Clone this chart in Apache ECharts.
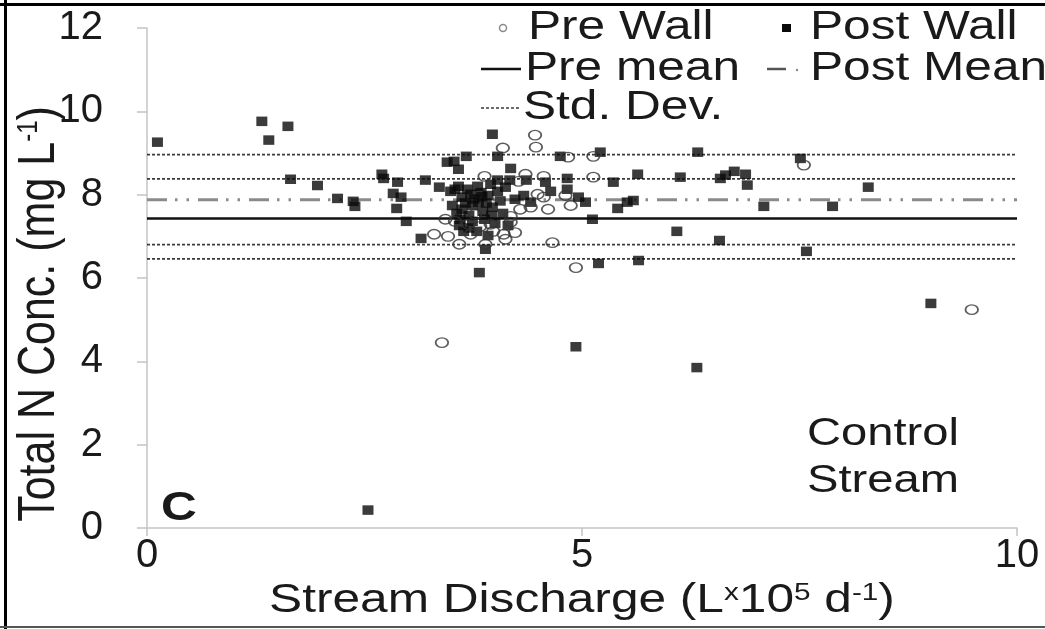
<!DOCTYPE html>
<html>
<head>
<meta charset="utf-8">
<script src="https://cdn.jsdelivr.net/npm/echarts@6/dist/echarts.min.js"></script>
<style>
  html, body { margin: 0; padding: 0; background: #ffffff; }
  #chart { width: 1045px; height: 629px; }
</style>
</head>
<body>
<div id="chart"></div>
<script>
// Stream discharge (L x 10^5 per day) vs total N concentration (mg/L)
const preWall = [
  [3.30, 7.05], [3.39, 4.45], [3.43, 7.41], [3.46, 7.00], [3.54, 7.36], [3.59, 6.81],
  [3.69, 7.29], [3.72, 7.05], [3.77, 7.53], [3.83, 7.24], [3.88, 8.44], [3.89, 6.81],
  [3.95, 7.29], [3.98, 7.12], [4.09, 9.12], [4.10, 7.05], [4.12, 6.93], [4.18, 7.48],
  [4.18, 7.34], [4.23, 7.09], [4.27, 8.32], [4.29, 7.65], [4.35, 8.49], [4.41, 7.70],
  [4.46, 9.43], [4.47, 9.14], [4.49, 8.01], [4.56, 8.44], [4.56, 7.94], [4.61, 7.65],
  [4.66, 6.85], [4.81, 7.98], [4.84, 8.90], [4.87, 7.74], [4.93, 6.25], [5.13, 8.92],
  [5.13, 8.42], [7.55, 8.71], [9.48, 5.24]
];

const postWall = [
  [0.12, 9.26], [1.32, 9.76], [1.40, 9.31], [1.62, 9.64], [1.65, 8.37], [1.96, 8.22],
  [2.19, 7.91], [2.37, 7.84], [2.39, 7.72], [2.54, 0.43], [2.70, 8.49], [2.72, 8.39],
  [2.83, 8.03], [2.87, 7.67], [2.88, 8.30], [2.92, 7.94], [2.98, 7.36], [3.15, 6.95],
  [3.20, 8.35], [3.36, 8.18], [3.45, 8.78], [3.49, 8.08], [3.51, 7.74], [3.53, 8.80],
  [3.54, 8.13], [3.56, 7.55], [3.58, 8.61], [3.58, 8.20], [3.59, 7.26], [3.60, 7.41],
  [3.62, 7.94], [3.62, 7.65], [3.64, 7.12], [3.66, 7.80], [3.67, 8.92], [3.68, 8.13],
  [3.70, 7.50], [3.70, 7.20], [3.72, 8.01], [3.74, 7.74], [3.74, 7.36], [3.76, 7.90],
  [3.79, 7.12], [3.80, 8.20], [3.81, 7.82], [3.82, 6.13], [3.84, 8.05], [3.85, 7.95],
  [3.86, 7.60], [3.88, 7.41], [3.89, 6.69], [3.90, 7.80], [3.92, 7.98], [3.92, 7.02],
  [3.95, 8.25], [3.96, 7.50], [3.97, 9.45], [3.97, 7.70], [4.00, 7.31], [4.03, 8.92],
  [4.03, 8.35], [4.03, 8.08], [4.06, 7.85], [4.09, 7.55], [4.12, 8.18], [4.15, 7.26],
  [4.17, 8.35], [4.18, 8.63], [4.23, 7.89], [4.33, 7.98], [4.36, 8.35], [4.41, 7.82],
  [4.58, 8.30], [4.64, 8.08], [4.75, 8.92], [4.83, 8.39], [4.83, 8.13], [4.93, 4.35],
  [4.96, 7.94], [5.04, 7.82], [5.12, 7.41], [5.19, 6.35], [5.21, 9.02], [5.36, 8.30],
  [5.41, 7.67], [5.52, 7.82], [5.59, 7.86], [5.64, 8.49], [5.65, 6.42], [6.09, 7.12],
  [6.13, 8.42], [6.32, 3.85], [6.33, 9.02], [6.58, 6.90], [6.59, 8.39], [6.65, 8.47],
  [6.75, 8.56], [6.88, 8.49], [6.90, 8.23], [7.09, 7.72], [7.51, 8.87], [7.58, 6.64],
  [7.88, 7.72], [8.29, 8.18], [9.01, 5.39]
];

const preMean = 7.43;
const postMean = 7.88;
const stdDevLevels = [8.96, 8.38, 6.80, 6.46];

const xRange = [0, 10];
const yRange = [0, 12];
const xStep = 5;
const yStep = 2;

const FONT = '"Liberation Sans", Arial, Helvetica, sans-serif';
const INK = '#1a1a1a';
const AXIS_GREY = '#c4c4c4';
const WIDE = 1.24; // horizontal stretch applied to the annotation text

// ellipse outline used for the open markers
const OPEN_MARK = 'path://M0,4a5,4 0 1,0 10,0a5,4 0 1,0 -10,0z';

function hline(level) {
  return [[xRange[0], level], [xRange[1], level]];
}

function levelSeries(name, level, lineStyle) {
  return {
    name: name,
    type: 'line',
    data: hline(level),
    showSymbol: false,
    symbol: 'none',
    silent: true,
    animation: false,
    lineStyle: lineStyle,
    z: 1
  };
}

const series = [];
stdDevLevels.forEach(function (lv, i) {
  series.push(levelSeries('Std. Dev. ' + (i + 1), lv, { color: '#3a3a3a', width: 1.6, type: [3, 2] }));
});
series.push(levelSeries('Pre mean', preMean, { color: '#111111', width: 2.5, type: 'solid' }));
series.push(levelSeries('Post Mean', postMean, { color: '#8a8a8a', width: 3, type: [20, 8, 2.5, 9, 2.5, 9] }));

series.push({
  name: 'Post Wall',
  type: 'scatter',
  data: postWall,
  symbol: 'rect',
  symbolSize: [11, 9.5],
  itemStyle: { color: '#0a0a0a' },
  animation: false,
  z: 3
});
series.push({
  name: 'Pre Wall',
  type: 'scatter',
  data: preWall,
  symbol: OPEN_MARK,
  symbolSize: [12.5, 9.5],
  itemStyle: { color: 'transparent', borderColor: '#333333', borderWidth: 1.6 },
  animation: false,
  z: 4
});

function label(x, y, text, opts) {
  opts = opts || {};
  return {
    type: 'text',
    x: x,
    y: y,
    scaleX: opts.scaleX || WIDE,
    scaleY: opts.scaleY || 1,
    rotation: opts.rotation || 0,
    z: 10,
    style: {
      text: text,
      fill: INK,
      fontSize: opts.size || 40,
      fontFamily: FONT,
      fontWeight: opts.weight || 'normal',
      align: opts.align || 'left',
      verticalAlign: 'middle',
      rich: opts.rich
    }
  };
}

const supRich = {
  s: { fontSize: 24, fontFamily: FONT, fill: INK, verticalAlign: 'top', lineHeight: 24 }
};

const chart = echarts.init(document.getElementById('chart'), null, { renderer: 'canvas' });
chart.setOption({
  backgroundColor: '#ffffff',
  animation: false,
  grid: { left: 147, right: 28, top: 28, bottom: 101, containLabel: false },
  xAxis: {
    type: 'value',
    min: xRange[0],
    max: xRange[1],
    interval: xStep,
    axisLine: { show: true, lineStyle: { color: AXIS_GREY, width: 1.5 } },
    axisTick: { show: true, length: 8, lineStyle: { color: AXIS_GREY, width: 1.5 } },
    axisLabel: { fontSize: 40, fontFamily: FONT, color: INK, margin: 8 },
    splitLine: { show: false }
  },
  yAxis: {
    type: 'value',
    min: yRange[0],
    max: yRange[1],
    interval: yStep,
    axisLine: { show: true, lineStyle: { color: AXIS_GREY, width: 1.5 } },
    axisTick: { show: true, length: 10, lineStyle: { color: AXIS_GREY, width: 1.5 } },
    axisLabel: { fontSize: 40, fontFamily: FONT, color: INK, margin: 44 },
    splitLine: { show: false }
  },
  series: series,
  graphic: [
    // frame
    { type: 'line', z: 20, shape: { x1: 0, y1: 4.5, x2: 1045, y2: 4.5 }, style: { stroke: '#000', lineWidth: 3 } },
    { type: 'line', z: 20, shape: { x1: 5.5, y1: 0, x2: 5.5, y2: 629 }, style: { stroke: '#000', lineWidth: 3 } },
    { type: 'line', z: 20, shape: { x1: 0, y1: 627, x2: 1045, y2: 627 }, style: { stroke: '#555', lineWidth: 2 } },

    // legend, first column
    { type: 'circle', z: 10, shape: { cx: 503, cy: 28, r: 3.5 }, style: { fill: 'none', stroke: '#8a8a8a', lineWidth: 1.5 } },
    label(528, 28, 'Pre Wall'),
    { type: 'line', z: 10, shape: { x1: 481, y1: 69, x2: 521, y2: 69 }, style: { stroke: '#111', lineWidth: 2.5 } },
    label(525, 69, 'Pre mean'),
    { type: 'line', z: 10, shape: { x1: 481, y1: 108, x2: 521, y2: 108 }, style: { stroke: '#3a3a3a', lineWidth: 1.6, lineDash: [3, 2] } },
    label(523, 108, 'Std. Dev.'),

    // legend, second column
    { type: 'rect', z: 10, shape: { x: 782, y: 24, width: 9, height: 8 }, style: { fill: '#0a0a0a' } },
    label(810, 28, 'Post Wall'),
    { type: 'line', z: 10, shape: { x1: 767, y1: 69, x2: 786, y2: 69 }, style: { stroke: '#555', lineWidth: 2.5 } },
    { type: 'circle', z: 10, shape: { cx: 797, cy: 70, r: 1.2 }, style: { fill: '#888' } },
    label(810, 69, 'Post Mean'),

    // panel annotations
    label(179, 509, 'C', { weight: 'bold', align: 'center', size: 40 }),
    label(883, 435, 'Control', { align: 'center', size: 38 }),
    label(883, 482, 'Stream', { align: 'center', size: 38 }),

    // axis titles
    label(582, 601, 'Stream Discharge (L{s|x}10{s|5} d{s|-1})', { align: 'center', size: 40, rich: supRich }),
    label(40, 314, 'Total N Conc. (mg L{s|-1})', {
      align: 'center', size: 43, rotation: Math.PI / 2, scaleX: 1, scaleY: 1.2, rich: supRich
    })
  ]
});
</script>
</body>
</html>
